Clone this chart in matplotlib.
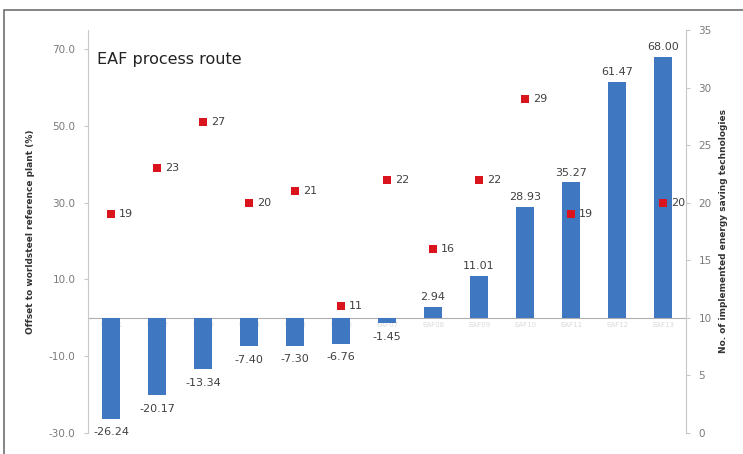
import matplotlib
matplotlib.use("Agg")
import matplotlib.pyplot as plt
import numpy as np
from matplotlib.patches import Rectangle

categories = ["EAF01", "EAF02", "EAF03", "EAF04", "EAF05", "EAF06", "EAF07",
              "EAF08", "EAF09", "EAF10", "EAF11", "EAF12", "EAF13"]
offsets = [-26.24, -20.17, -13.34, -7.40, -7.30, -6.76, -1.45, 2.94, 11.01,
           28.93, 35.27, 61.47, 68.00]
n_tech = [19, 23, 27, 20, 21, 11, 22, 16, 22, 29, 19, np.nan, 20]
left_ticks = [-30, -10, 10, 30, 50, 70]
right_ticks = [0, 5, 10, 15, 20, 25, 30, 35]

fig = plt.figure(figsize=(7.43, 4.54), dpi=100)
fig.patches.append(Rectangle((4/743, -0.01), 1.0, 1 - 10/454 + 0.01, transform=fig.transFigure,
                             fill=False, edgecolor="#707070", linewidth=1.2))
ax = fig.add_axes([88/743, 1 - 433/454, (686-88)/743, (433-30)/454])
x = np.arange(len(categories))
ax.bar(x, offsets, width=0.4, color="#3f78c0", zorder=3)
ax.set_ylim(-30, 75)
ax.set_xlim(-0.5, len(categories) - 0.5)
ax.set_yticks(left_ticks)
ax.set_yticklabels([f"{t:.1f}" for t in left_ticks], color="#7a7a7a", fontsize=7.5)
ax.axhline(0, color="#b0b0b0", linewidth=0.8, zorder=1)
ax.set_xticks([])
for xi, c in zip(x, categories):
    ax.text(xi, -1.0, c, ha="center", va="top", fontsize=5, color="#dadada", zorder=1)
for s in ["top", "bottom", "right"]:
    ax.spines[s].set_visible(False)
ax.spines["left"].set_color("#c8c8c8")
ax.tick_params(axis="y", length=3, color="#c8c8c8", pad=6)
for xi, v in zip(x, offsets):
    if v >= 0:
        ax.text(xi, v + 1.2, f"{v:.2f}", ha="center", va="bottom", fontsize=8, color="#404040")
    else:
        ax.text(xi, v - 2.2, f"{v:.2f}", ha="center", va="top", fontsize=8, color="#404040")
ax.set_ylabel("Offset to worldsteel reference plant (%)", fontsize=6.5, fontweight="bold",
              color="#333333", labelpad=10)
ax.text(0.015, 0.945, "EAF process route", transform=ax.transAxes, fontsize=11.5,
        color="#222222", va="top", ha="left")

ax2 = ax.twinx()
ax2.set_ylim(0, 35)
ax2.set_yticks(right_ticks)
ax2.set_yticklabels([str(t) for t in right_ticks], color="#7a7a7a", fontsize=7.5)
for s in ["top", "bottom", "left"]:
    ax2.spines[s].set_visible(False)
ax2.spines["right"].set_color("#c8c8c8")
ax2.tick_params(axis="y", length=3, color="#c8c8c8", pad=6)
ax2.scatter(x, n_tech, marker="s", s=30, color="#d9141c", zorder=3, linewidths=0)
for xi, v in zip(x, n_tech):
    if not np.isnan(v):
        ax2.text(xi + 0.18, v, f"{int(v)}", ha="left", va="center", fontsize=8, color="#404040")
ax2.set_ylabel("No. of implemented energy saving technologies", fontsize=6.5,
               fontweight="bold", color="#333333", labelpad=5)

fig.savefig("out.png", dpi=100)
